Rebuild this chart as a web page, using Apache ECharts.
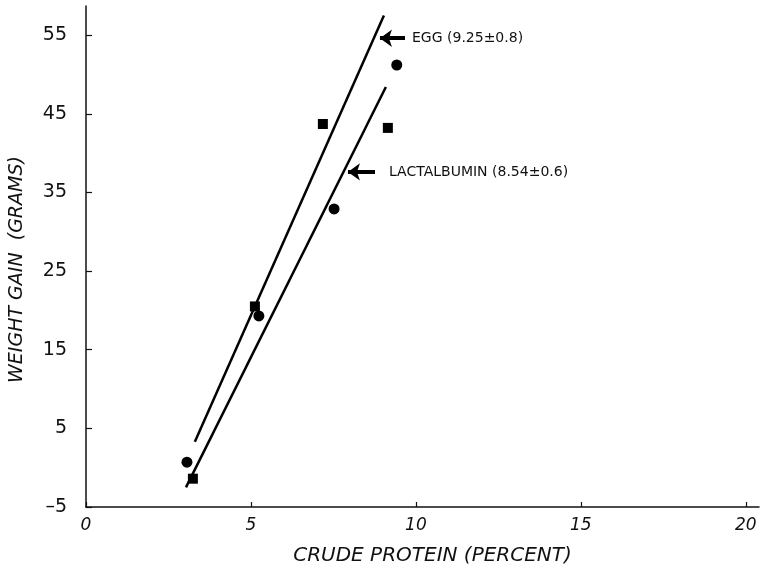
<!DOCTYPE html>
<html>
<head>
<meta charset="utf-8">
<script src="https://cdn.jsdelivr.net/npm/echarts@6/dist/echarts.min.js"></script>
<style>html,body{margin:0;padding:0;background:#fff}#c{width:763px;height:569px}</style>
</head>
<body>
<div id="c"></div>
<script>
// Data
const xTicks = [0, 5, 10, 15, 20];
const yTicks = [-5, 5, 15, 25, 35, 45, 55];

const eggX = [3.24, 5.12, 7.18, 9.15];
const eggY = [-1.4, 20.5, 43.7, 43.2];
const lactX = [3.06, 5.24, 7.52, 9.42];
const lactY = [0.7, 19.3, 32.9, 51.2];

const eggLineX = [3.30, 9.03];
const eggLineY = [3.3, 57.5];
const lactLineX = [3.03, 9.09];
const lactLineY = [-2.5, 48.4];

const eggLabel = 'EGG (9.25±0.8)';
const lactLabel = 'LACTALBUMIN (8.54±0.6)';
const eggArrowX = [8.91, 9.67];
const eggArrowY = [54.6, 54.6];
const lactArrowX = [7.94, 8.76];
const lactArrowY = [37.6, 37.6];

const zip = (a, b) => a.map((v, i) => [v, b[i]]);
const FONT = 'DejaVu Sans';

const chart = echarts.init(document.getElementById('c'), null, {renderer: 'canvas'});
chart.setOption({
  animation: false,
  backgroundColor: '#fff',
  grid: {left: 86, right: 4, top: 6, bottom: 62, containLabel: false, outerBoundsMode: 'none'},
  xAxis: {
    type: 'value', min: 0, max: 20.4,
    name: 'CRUDE PROTEIN (PERCENT)', nameLocation: 'middle', nameGap: 39,
    nameTextStyle: {fontFamily: FONT, fontSize: 20, fontStyle: 'italic', color: '#111', padding: [0, 0, 0, 20]},
    axisLine: {onZero: false, lineStyle: {color: '#111', width: 1.5}},
    axisTick: {inside: true, length: 5, customValues: xTicks, lineStyle: {color: '#111', width: 1.2}},
    axisLabel: {customValues: xTicks, fontFamily: FONT, fontSize: 17, fontStyle: 'italic', color: '#111', margin: 10},
    splitLine: {show: false}
  },
  yAxis: {
    type: 'value', min: -5, max: 58.7,
    name: 'WEIGHT GAIN  (GRAMS)', nameLocation: 'middle', nameGap: 59,
    nameTextStyle: {fontFamily: FONT, fontSize: 19, fontStyle: 'italic', color: '#111', padding: [0, 26, 0, 0]},
    axisLine: {onZero: false, lineStyle: {color: '#111', width: 1.5}},
    axisTick: {inside: true, length: 6, customValues: yTicks, lineStyle: {color: '#111', width: 1.2}},
    axisLabel: {customValues: yTicks, fontFamily: FONT, fontSize: 19, color: '#111', margin: 19,
      formatter: v => (v < 0 ? '\u2013' + Math.abs(v) : String(v))},
    splitLine: {show: false}
  },
  series: [
    {type: 'line', data: zip(eggLineX, eggLineY), symbol: 'none', lineStyle: {color: '#000', width: 2.5}, z: 2},
    {type: 'line', data: zip(lactLineX, lactLineY), symbol: 'none', lineStyle: {color: '#000', width: 2.5}, z: 2},
    {type: 'scatter', data: zip(eggX, eggY), symbol: 'rect', symbolSize: 10, itemStyle: {color: '#000', opacity: 1}, z: 3},
    {type: 'scatter', data: zip(lactX, lactY), symbol: 'circle', symbolSize: 11, itemStyle: {color: '#000', opacity: 1}, z: 3,
      markLine: {
        silent: true, symbol: ['arrow', 'none'], symbolSize: [13, 12],
        lineStyle: {color: '#000', width: 4, type: 'solid', opacity: 1},
        label: {show: true, position: 'end', fontFamily: FONT, fontSize: 14, color: '#111'},
        data: [
          [{coord: [eggArrowX[0], eggArrowY[0]], label: {formatter: eggLabel, distance: 7}},
           {coord: [eggArrowX[1], eggArrowY[1]]}],
          [{coord: [lactArrowX[0], lactArrowY[0]], label: {formatter: lactLabel, distance: 14}},
           {coord: [lactArrowX[1], lactArrowY[1]]}]
        ]
      }
    }
  ]
});
</script>
</body>
</html>
